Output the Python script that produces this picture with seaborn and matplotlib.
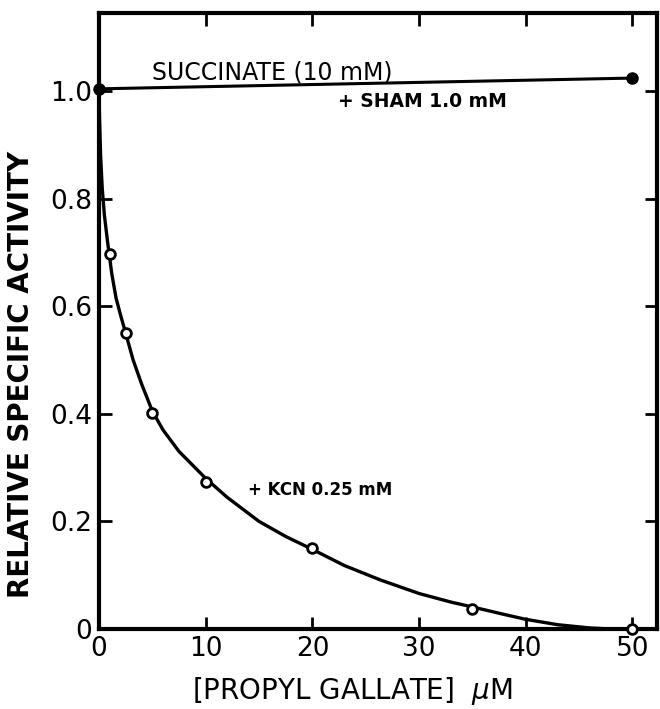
import numpy as np
import matplotlib
matplotlib.use("Agg")
import matplotlib.pyplot as plt
import seaborn as sns

# ---------- datos ----------

# puntos con KCN 0.25 mM (circulos abiertos)
kcn_x = [1, 2.5, 5, 10, 20, 35, 50]
kcn_y = [0.697, 0.550, 0.401, 0.274, 0.151, 0.038, 0.0]

# curva ajustada dibujada a mano en el original
curva_x = [0, 0.05, 0.15, 0.3, 0.5, 0.8, 1.2, 1.6, 2.0, 2.5, 3.2, 4, 5, 6, 7.5, 9,
           10, 12, 15, 17.5, 20, 23, 26.4, 30, 33, 35, 38, 40, 43, 46, 50, 52.3]
curva_y = [1.0, 0.95, 0.88, 0.82, 0.77, 0.72, 0.66, 0.615, 0.585, 0.55, 0.50, 0.455,
           0.405, 0.37, 0.33, 0.30, 0.28, 0.245, 0.20, 0.172, 0.148, 0.118, 0.091,
           0.066, 0.050, 0.041, 0.027, 0.018, 0.008, 0.002, -0.002, -0.002]

# succinato + SHAM 1.0 mM (puntos llenos)
sham_x = [0, 50]
sham_y = [1.004, 1.024]

xticks = [0, 10, 20, 30, 40, 50]
yticks = [0, 0.2, 0.4, 0.6, 0.8, 1.0]
ytick_labels = ["0", "0.2", "0.4", "0.6", "0.8", "1.0"]

# ---------- grafico ----------

negro = {'axes.edgecolor': 'black', 'text.color': 'black', 'axes.labelcolor': 'black',
         'xtick.color': 'black', 'ytick.color': 'black'}
sns.set_theme(style="ticks", rc=negro)
plt.rcParams['font.family'] = ['DejaVu Sans']

fig = plt.figure(figsize=(6.6, 7.09), dpi=100)
ax = fig.add_axes([0.15, 0.1128, 0.8455, 0.8689])

sns.lineplot(x=curva_x, y=curva_y, ax=ax, color='black', linewidth=2.4, sort=False)
sns.lineplot(x=sham_x, y=sham_y, ax=ax, color='black', linewidth=2.2, sort=False)
ax.plot(sham_x, sham_y, 'o', color='black', markersize=8, clip_on=False, zorder=5)
ax.plot(kcn_x, kcn_y, 'o', markerfacecolor='white', markeredgecolor='black',
        markeredgewidth=2, markersize=7, clip_on=False, zorder=5)

ax.set_xlim(0, 52.3)
ax.set_ylim(0, 1.145)

ax.set_xticks(xticks)
ax.set_yticks(yticks)
ax.set_yticklabels(ytick_labels)
ax.tick_params(direction='in', length=9, width=2, top=True, right=True,
               labelsize=19, pad=5)
ax.tick_params(axis='y', labelright=False)
ax.tick_params(axis='x', labeltop=False)
for s in ax.spines.values():
    s.set_linewidth(3)

ax.set_xlabel(r"[PROPYL GALLATE]  $\mu$M", fontsize=20)
ax.set_ylabel("RELATIVE SPECIFIC ACTIVITY", fontsize=20, fontweight='bold')
ax.xaxis.set_label_coords(0.455, -0.075)
ax.yaxis.set_label_coords(-0.115, 0.414)

ax.text(5.0, 1.035, "SUCCINATE (10 mM)", fontsize=17, va='center', ha='left')
ax.text(22.4, 0.98, "+ SHAM 1.0 mM", fontsize=13.5, fontweight='bold', va='center', ha='left')
ax.text(14.0, 0.258, "+ KCN 0.25 mM", fontsize=12, fontweight='bold', va='center', ha='left')

fig.savefig("out.png", dpi=100)
